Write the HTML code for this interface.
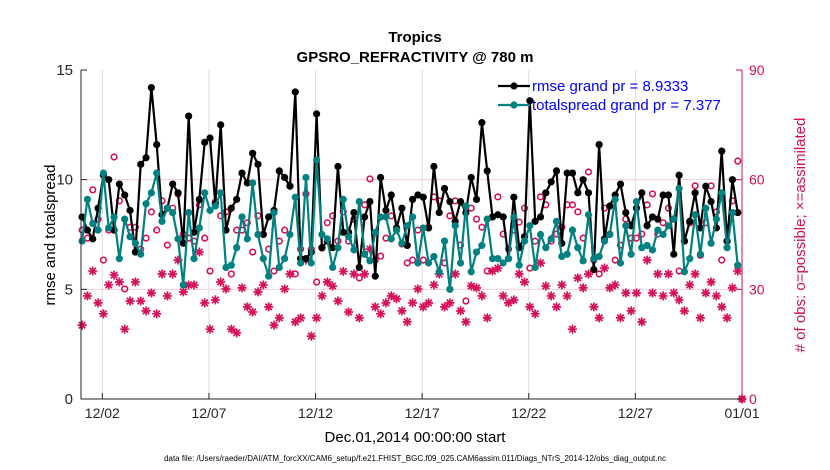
<!DOCTYPE html>
<html><head><meta charset="utf-8"><style>
body{margin:0;background:#fff;}
svg{display:block;font-family:"Liberation Sans",sans-serif;}
</style></head><body>
<svg id="chart" width="830" height="470" viewBox="0 0 830 470" xmlns="http://www.w3.org/2000/svg">
<rect width="830" height="470" fill="#fff"/>
<text x="415" y="42" text-anchor="middle" font-size="15" font-weight="bold">Tropics</text>
<text x="415" y="62" text-anchor="middle" font-size="15" font-weight="bold">GPSRO_REFRACTIVITY @ 780 m</text>
<g id="grid"></g>
<g id="marks"></g>
<g id="axes"></g>
<text x="415" y="442" text-anchor="middle" font-size="15">Dec.01,2014 00:00:00 start</text>
<text x="415" y="461" text-anchor="middle" font-size="8">data file: /Users/raeder/DAI/ATM_forcXX/CAM6_setup/f.e21.FHIST_BGC.f09_025.CAM6assim.011/Diags_NTrS_2014-12/obs_diag_output.nc</text>
<text transform="translate(55,235) rotate(-90)" text-anchor="middle" font-size="15">rmse and totalspread</text>
<text transform="translate(805,235) rotate(-90)" text-anchor="middle" font-size="15" fill="#d01050"># of obs: o=possible; ×=assimilated</text>
<g id="legend"></g>
</svg>
<script>
const rmse=[8.3,7.7,7.3,8.7,10.2,10.0,7.7,9.8,9.3,8.6,6.7,10.7,11.0,14.2,11.6,8.4,8.7,9.8,9.4,7.1,12.9,7.6,9.1,11.7,11.9,8.9,12.5,7.7,8.7,9.1,10.3,
9.85,11.2,10.7,7.5,8.3,8.6,10.4,10.1,9.7,14.0,6.4,6.4,6.7,13.0,6.9,7.2,6.9,10.6,7.6,7.6,8.5,6.0,8.3,9.0,5.6,10.1,8.6,9.3,7.8,8.7,7.0,
9.1,9.3,9.2,7.8,10.6,8.5,9.6,9.0,8.1,9.0,8.5,10.1,9.1,12.6,10.4,8.3,8.4,8.3,6.4,9.2,6.9,7.4,13.6,8.1,8.3,9.4,9.9,10.4,7.1,10.3,10.3,
9.4,10.0,9.4,5.9,11.6,7.3,8.8,9.3,9.8,8.5,7.9,8.7,9.4,7.9,8.3,8.2,9.3,9.3,6.6,10.2,7.2,8.1,9.4,7.8,9.7,9.0,7.8,11.3,7.2,10.0,8.5];
const spread=[7.2,9.1,8.0,7.7,10.3,7.8,8.3,6.4,8.2,7.4,7.1,6.6,8.9,9.4,10.3,8.1,8.7,8.5,7.3,5.2,8.5,6.4,7.8,9.4,8.6,8.8,9.4,6.0,6.1,6.9,8.3,
7.3,9.85,7.5,6.4,5.6,8.5,6.0,6.4,7.5,9.2,6.2,10.1,6.2,10.9,7.5,7.3,6.0,6.9,9.1,7.4,6.8,9.0,6.6,6.3,7.6,8.3,8.3,7.3,7.7,7.1,7.9,
8.3,6.2,7.8,6.2,6.5,5.8,7.2,5.0,7.9,6.2,8.8,5.8,6.7,7.0,8.2,6.4,6.4,6.2,6.4,8.3,6.1,7.2,7.9,6.0,7.5,6.9,7.3,8.1,6.5,6.6,7.7,
6.9,6.3,8.4,6.4,6.5,7.2,7.5,9.1,6.2,7.9,6.6,9.0,6.9,7.0,6.8,7.7,7.5,7.9,8.2,9.6,5.8,6.4,8.4,6.6,8.7,7.1,8.2,9.4,6.9,8.5,6.1];
const nPossible=[46.2,44,57.2,49.2,38,46.2,66.2,54.2,30.1,47,47,41,44,51.2,46.2,54.2,42.1,52.2,56.1,45.1,44,43.2,53.1,44,35,53.9,50.1,51.2,34.2,46.2,46.2,
48.2,40.2,50.1,45.1,41,35,43.2,46.2,58.3,34.2,41,56.1,41,32,41.3,48.2,50.1,43.2,51.2,43.2,49.2,33.1,53.1,60.2,38,39.1,44,50.1,46.2,42.4,37.2,
38,46.2,38,47,55.3,54.2,37.2,50.1,54.2,42.1,26.8,52.2,49.2,47,35,49.8,55.3,45.1,41,46.2,48.4,52.2,35.8,43.2,55.3,53.1,43.2,45.1,47,53.1,53.1,
51.2,44,62.1,38,34.2,52.2,45.1,38,42.1,49.2,44,44,45.1,53.1,56.1,45.1,48.2,52.2,49.2,35,43.2,48.2,58.3,39.3,48.2,58.3,51.2,38,43.2,54.2,65.1];
const nUsed=[20.2,28.2,35,26.3,23.3,31.2,33.9,32,19.1,26.8,32,26.8,24.1,29,23.3,34.2,28.2,34.2,38,29.3,31.2,31.2,40.2,26.3,19.1,27.1,32,30.1,19.1,18.1,30.4,
25.2,23.8,29.3,31.2,25.2,20.2,22.2,30.1,34.2,21.1,22.2,38,17.2,22.2,28.2,32,30.9,26.8,34.9,23.8,34.2,22.2,34.2,41,25.2,23.3,26.3,28.2,27.4,24.1,21.1,
26.3,30.1,25.2,26.3,31.2,34.2,25.2,26.3,34.2,24.1,21.1,30.9,30.4,28.2,22.2,35,35.8,28.2,26.3,27.1,34.2,32,25.2,23.3,37.2,30.9,28.2,25.2,31.2,28.2,19.1,
33.1,30.4,34.2,25.2,22.2,35.8,30.4,31.2,22.2,29,24.1,29,21.1,38,29,34.2,28.2,34.2,29,27.1,24.1,31.2,34.2,22.2,29,32,28.2,25.2,22.2,30.4,35];
const yTicks=[0,5,10,15];
const y2Ticks=[0,30,60,90];
const xTickDays=[1,6,11,16,21,26,31];
const xTickLabels=['12/02','12/07','12/12','12/17','12/22','12/27','01/01'];

const X0=81,X1=742,Y0=399,Y1=70;
const xs=d=>X0+(d/31)*(X1-X0);
const ys=v=>Y0-(v/15)*(Y0-Y1);
const y2s=v=>Y0-(v/90)*(Y0-Y1);
const dayOf=i=>(i+0.2)*0.25;
const NS='http://www.w3.org/2000/svg';
function mk(tag,parent,attrs){const e=document.createElementNS(NS,tag);for(const k in attrs)e.setAttribute(k,attrs[k]);parent.appendChild(e);return e;}
const grid=document.getElementById('grid'),marks=document.getElementById('marks'),axes=document.getElementById('axes'),legend=document.getElementById('legend');

xTickDays.forEach((d,i)=>{
  const l=mk('line',grid,{x1:xs(d),x2:xs(d),y1:Y1,y2:Y0,stroke:'#dcdcdc','stroke-width':1});
  
  
  const t=mk('line',axes,{x1:xs(d),x2:xs(d),y1:Y0,y2:Y0-6,stroke:'#262626'});
  
  
  const tx=mk('text',axes,{x:xs(d),y:Y0+19,'text-anchor':'middle','font-size':14,fill:'#262626'});
  tx.textContent=xTickLabels[i];
  
  
});
y2Ticks.forEach(v=>{
  if(v>0&&v<90){const l=mk('line',grid,{x1:X0,x2:X1,y1:y2s(v),y2:y2s(v),stroke:'#f5cddc','stroke-width':1});
  
  }
  const t=mk('line',axes,{x1:X1,x2:X1-6,y1:y2s(v),y2:y2s(v),stroke:'#d01050'});
  
  
  const tx=mk('text',axes,{x:X1+7,y:y2s(v)+5,'font-size':14,fill:'#d01050'});
  tx.textContent=v;
  
  
});
yTicks.forEach(v=>{
  const t=mk('line',axes,{x1:X0,x2:X0+6,y1:ys(v),y2:ys(v),stroke:'#262626'});
  
  
  const tx=mk('text',axes,{x:X0-8,y:ys(v)+5,'text-anchor':'end','font-size':15,fill:'#262626'});
  tx.textContent=v;
  
  
});
const ax=mk('path',axes,{d:`M${X0},${Y1}V${Y0}H${X1}`,fill:'none',stroke:'#262626','stroke-width':1});


const ax2=mk('line',axes,{x1:X1,x2:X1,y1:Y1,y2:Y0,stroke:'#d01050','stroke-width':1});



function star(p,cx,cy,name){
  const r=4.5,d=r*0.72;
  const s=mk('path',p,{d:`M${cx-r},${cy}H${cx+r}M${cx},${cy-r}V${cy+r}M${cx-d},${cy-d}L${cx+d},${cy+d}M${cx-d},${cy+d}L${cx+d},${cy-d}`,stroke:'#d6105a','stroke-width':1.7,fill:'none'});
  
  
}
nUsed.forEach((v,i)=>star(marks,xs(dayOf(i)),y2s(v),'assimilated-marker'));
star(marks,X1,Y0,'assimilated-marker');
nPossible.forEach((v,i)=>{
  const c=mk('circle',marks,{cx:xs(dayOf(i)),cy:y2s(v),r:2.8,fill:'none',stroke:'#d6105a','stroke-width':1.6});
  
  
});
const cEnd=mk('circle',marks,{cx:X1,cy:Y0,r:2.8,fill:'none',stroke:'#d6105a','stroke-width':1.6});



function series(vals,color,name){
  const pts=vals.map((v,i)=>xs(dayOf(i)).toFixed(1)+','+ys(v).toFixed(1)).join(' ');
  const pl=mk('polyline',marks,{points:pts,fill:'none',stroke:color,'stroke-width':2.2});
  
  
  vals.forEach((v,i)=>{
    const c=mk('circle',marks,{cx:xs(dayOf(i)),cy:ys(v),r:3.6,fill:color});
    
    
  });
}
series(rmse,'#000','rmse');
series(spread,'#008080','totalspread');

[['#000','rmse grand pr = 8.9333',91,'legend-entry-rmse'],['#008080','totalspread grand pr = 7.377',110,'legend-entry-totalspread']].forEach(e=>{
  const g=mk('g',legend,{});
  
  
  mk('line',g,{x1:498,x2:530,y1:e[2]-5,y2:e[2]-5,stroke:e[0],'stroke-width':2.2});
  mk('circle',g,{cx:514,cy:e[2]-5,r:3.6,fill:e[0]});
  const t=mk('text',g,{x:532,y:e[2],'font-size':15,fill:'#0000ff'});
  t.textContent=e[1];
});
</script>
</body></html>
